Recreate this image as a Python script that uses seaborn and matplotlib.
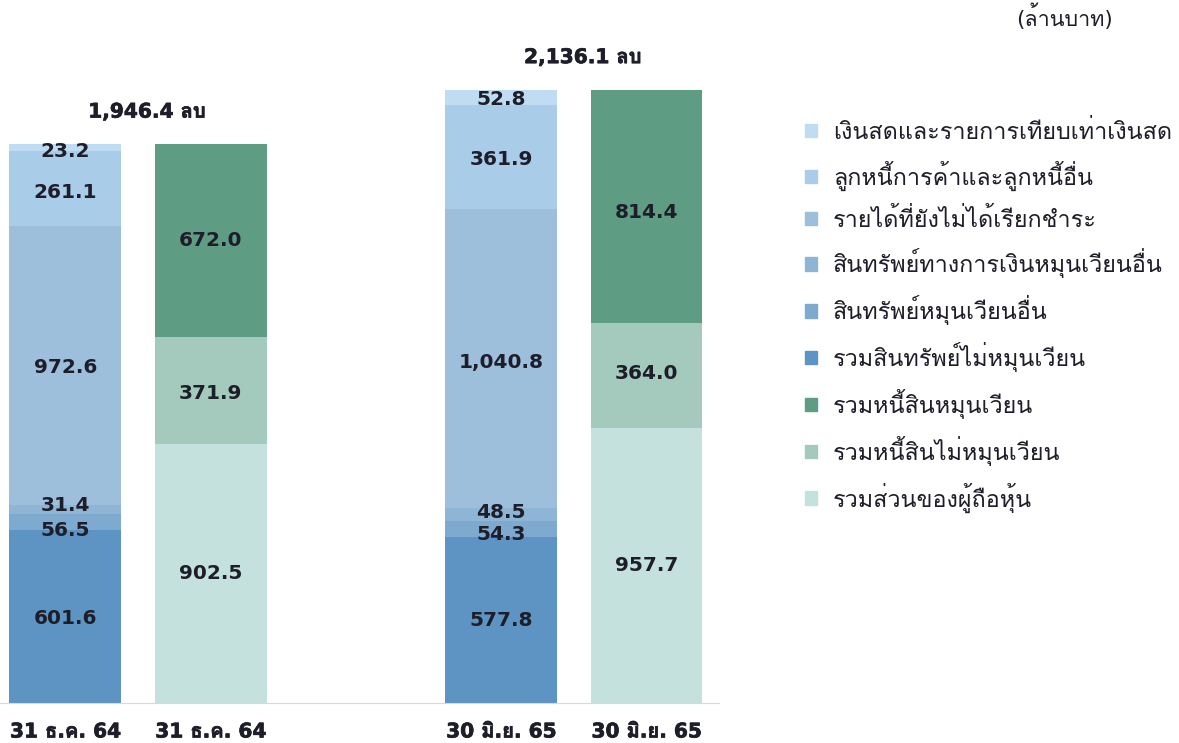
import pandas as pd
import numpy as np
import seaborn as sns
import matplotlib.pyplot as plt
import matplotlib.patheffects as pe
from matplotlib import font_manager
from matplotlib.ft2font import FT2Font
from matplotlib.patches import Patch

# find a font that has Thai glyphs, prefer one that also has a bold face
thai = {}
for f in font_manager.fontManager.ttflist:
    try:
        if 0x0E01 in FT2Font(f.fname).get_charmap():
            w = f.weight if isinstance(f.weight, int) else 400
            thai.setdefault(f.name, []).append(w)
    except Exception:
        pass
thai_font = None
for name, ws in thai.items():
    if max(ws) >= 600:
        thai_font = name
        break
if thai_font is None and thai:
    thai_font = list(thai)[0]
fams = ['DejaVu Sans'] + ([thai_font] if thai_font else [])

# data
periods = ['31 ธ.ค. 64', '30 มิ.ย. 65']
totals = [1946.4, 2136.1]
asset_names = ['เงินสดและรายการเทียบเท่าเงินสด', 'ลูกหนี้การค้าและลูกหนี้อื่น',
               'รายได้ที่ยังไม่ได้เรียกชำระ', 'สินทรัพย์ทางการเงินหมุนเวียนอื่น',
               'สินทรัพย์หมุนเวียนอื่น', 'รวมสินทรัพย์ไม่หมุนเวียน']
liab_names = ['รวมหนี้สินหมุนเวียน', 'รวมหนี้สินไม่หมุนเวียน', 'รวมส่วนของผู้ถือหุ้น']
# top -> bottom
assets_64 = [23.2, 261.1, 972.6, 31.4, 56.5, 601.6]
assets_65 = [52.8, 361.9, 1040.8, 48.5, 54.3, 577.8]
liab_64 = [672.0, 371.9, 902.5]
liab_65 = [814.4, 364.0, 957.7]

asset_colors = ['#bfdcf2', '#a9cce8', '#9dbfdc', '#8fb5d6', '#7eaacf', '#5e94c3']
liab_colors = ['#5f9c84', '#a4c9bd', '#c5e1dd']
txt_col = '#1e1e2a'

# label offsets in pixels (positive = down)
off_a = [[4, 4, 2, -4, 8, 2], [2, 3, 4, -2, 5, 0]]
off_l = [[0, 3, 0], [6, -2, 0]]

sns.set_style('white')
plt.rcParams['font.family'] = fams

fig = plt.figure(figsize=(11.79, 7.43), dpi=100)
ax = fig.add_axes([-0.0062, 0.0538, 0.6162, 0.889])

keys = ['a64', 'l64', 'gap', 'a65', 'l65']


def stack(ax, key_list, series, names, colors):
    # draw cumulative bars, largest first, so they stack
    for i in range(len(names)):
        cum = [sum(s[i:]) for s in series]
        df = pd.DataFrame({'k': key_list, 'v': cum})
        sns.barplot(data=df, x='k', y='v', order=keys, color=colors[i],
                    width=0.77, saturation=1, ax=ax, linewidth=0)


stack(ax, ['a64', 'a65'], [assets_64, assets_65], asset_names, asset_colors)
stack(ax, ['l64', 'l65'], [liab_64, liab_65], liab_names, liab_colors)

pos = {'a64': 0, 'l64': 1, 'a65': 3, 'l65': 4}
for key, vals, offs in [('a64', assets_64, off_a[0]), ('a65', assets_65, off_a[1]),
                        ('l64', liab_64, off_l[0]), ('l65', liab_65, off_l[1])]:
    for i, v in enumerate(vals):
        center = sum(vals[i + 1:]) + v / 2
        ax.annotate(f'{v:,.1f}', (pos[key], center), xytext=(0, -offs[i] * 0.72),
                    textcoords='offset points', ha='center', va='center',
                    fontsize=14.5, fontweight='bold', color=txt_col)

# thin stroke so the Thai glyphs (no bold face) look bold too
heavy = [pe.withStroke(linewidth=0.5, foreground=txt_col)]
for j, t in enumerate(totals):
    ax.annotate(f'{t:,.1f} ลบ', (pos['a64' if j == 0 else 'a65'] + 0.56, t),
                xytext=(0, 23), textcoords='offset points', ha='center', va='center',
                fontsize=14.5, fontweight='bold', color=txt_col, path_effects=heavy)

ax.set_xlim(-0.5, 4.5)
ax.set_ylim(0, 2300)
ax.set_yticks([])
ax.set_ylabel('')
ax.set_xlabel('')
ax.set_xticks([0, 1, 3, 4])
ax.set_xticklabels([periods[0], periods[0], periods[1], periods[1]],
                   fontsize=14.5, fontweight='bold', color=txt_col)
for lab in ax.get_xticklabels():
    lab.set_path_effects(heavy)
ax.set_xticks([0.5, 1.5, 2.5, 3.5], minor=True)
ax.tick_params(axis='x', which='major', length=0, pad=14)
ax.tick_params(axis='x', which='minor', length=5, color='#d0d0d0', direction='out')
for s in ['top', 'right', 'left']:
    ax.spines[s].set_visible(False)
ax.spines['bottom'].set_color('#d9d9d9')

handles = [Patch(color=c) for c in asset_colors + liab_colors]
fig.legend(handles, asset_names + liab_names, loc='upper left',
           bbox_to_anchor=(0.665, 0.867), frameon=False, fontsize=16.8,
           handlelength=0.5, handleheight=0.5, handletextpad=0.7,
           labelspacing=0.72, labelcolor=txt_col)

fig.text(0.903, 0.977, '(ล้านบาท)', ha='center', va='center', fontsize=15.5, color=txt_col)

fig.savefig('out.png', dpi=100)
